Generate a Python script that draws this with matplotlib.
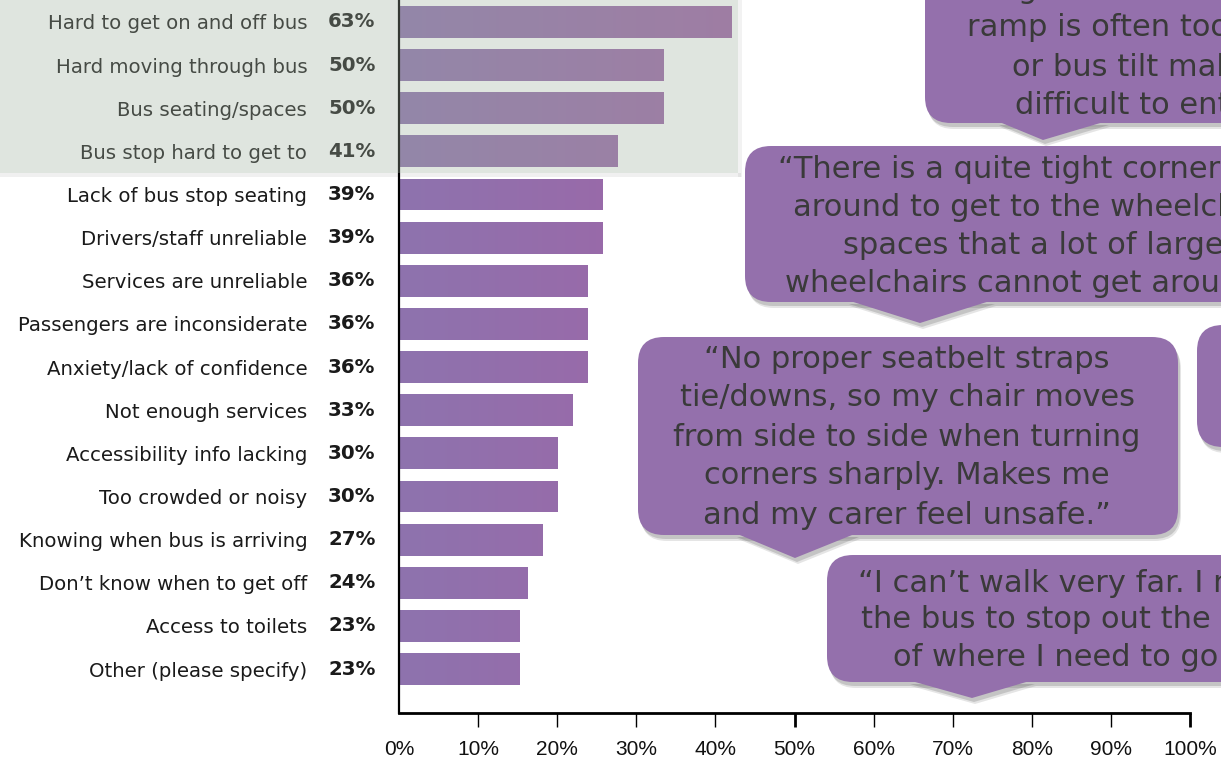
import matplotlib
matplotlib.use("Agg")
import matplotlib.pyplot as plt
import numpy as np
from matplotlib.colors import LinearSegmentedColormap
from matplotlib.patches import FancyBboxPatch, Polygon, Rectangle
from matplotlib.transforms import ScaledTranslation, blended_transform_factory

plt.rcParams['font.family'] = ['DejaVu Sans']

# データ
categories = [
    "Hard to get on and off bus", "Hard moving through bus", "Bus seating/spaces",
    "Bus stop hard to get to", "Lack of bus stop seating", "Drivers/staff unreliable",
    "Services are unreliable", "Passengers are inconsiderate", "Anxiety/lack of confidence",
    "Not enough services", "Accessibility info lacking", "Too crowded or noisy",
    "Knowing when bus is arriving", "Don\u2019t know when to get off", "Access to toilets",
    "Other (please specify)",
]
pct_labels = ["63%", "50%", "50%", "41%", "39%", "39%", "36%", "36%", "36%",
              "33%", "30%", "30%", "27%", "24%", "23%", "23%"]
# bar lengths as read against the drawn axis
bar_len = [42.0, 33.4, 33.4, 27.6, 25.7, 25.7, 23.8, 23.8, 23.8,
           21.9, 20.0, 20.0, 18.1, 16.2, 15.2, 15.2]
x_ticks = [0, 10, 20, 30, 40, 50, 60, 70, 80, 90, 100]
x_tick_labels = [f"{t}%" for t in x_ticks]

quotes = [
    ["\u201cGetting on and off the bus, the", "ramp is often too steep",
     "or bus tilt makes it", "difficult to enter.\u201d"],
    ["\u201cThere is a quite tight corner to turn", "around to get to the wheelchair",
     "spaces that a lot of larger", "wheelchairs cannot get around.\u201d"],
    ["\u201cNo proper seatbelt straps", "tie/downs, so my chair moves",
     "from side to side when turning", "corners sharply. Makes me",
     "and my carer feel unsafe.\u201d"],
    ["\u201cI can\u2019t walk very far. I need", "the bus to stop out the front",
     "of where I need to go.\u201d"],
]

W, H = 1221, 759
fig = plt.figure(figsize=(W / 100, H / 100), dpi=100)
ax = fig.add_axes([399 / W, 1 - 713 / H, (1190 - 399) / W, 713 / H])

rows = np.arange(len(categories))
bars = ax.barh(rows, bar_len, height=0.74, color='none', edgecolor='none')

cmap = LinearSegmentedColormap.from_list('barcol', ['#8e73ae', '#a064a6'])
for b, v in zip(bars, bar_len):
    grad = np.linspace(0, v / 45, 64).reshape(1, -1)
    im = ax.imshow(grad, cmap=cmap, vmin=0, vmax=1, aspect='auto', zorder=2,
                   extent=[0, v, b.get_y() + b.get_height(), b.get_y()],
                   interpolation='bilinear')
    im.set_clip_path(b)

ax.set_xlim(0, 100)
ax.set_ylim(16.02, -0.51)
ax.set_aspect('auto')
ax.set_facecolor('none')

for s in ['top', 'right']:
    ax.spines[s].set_visible(False)
ax.spines['left'].set_linewidth(1.6)
ax.spines['bottom'].set_linewidth(2.0)

ax.set_yticks(rows)
ax.set_yticklabels(categories, fontsize=14.2, color='#1a1a1a')
ax.tick_params(axis='y', length=0, pad=66)

ax.set_xticks(x_ticks)
ax.set_xticklabels(x_tick_labels, fontsize=15, family='Liberation Sans', color='#111111')
ax.tick_params(axis='x', direction='out', length=10, pad=9.5)
for val, t in zip(x_ticks, ax.xaxis.get_major_ticks()):
    major = val % 50 == 0
    t.tick1line.set_markeredgewidth(2.0 if major else 1.0)
    t.tick1line.set_color('black' if major else '#777777')
    if val == 0:
        t.tick1line.set_visible(False)

# パーセント表示
trans = blended_transform_factory(ax.transData, ax.transData) + \
    ScaledTranslation(-71 / 100, 0, fig.dpi_scale_trans)
for r, p in zip(rows, pct_labels):
    ax.text(0, r, p, transform=trans, ha='left', va='center', fontsize=14.2,
            fontweight='bold', color='#1a1a1a', clip_on=False)

# overlay in pixel coordinates
ov = fig.add_axes([0, 0, 1, 1])
ov.set_xlim(0, W)
ov.set_ylim(H, 0)
ov.axis('off')
ov.patch.set_alpha(0)

# highlight box
ov.add_patch(Rectangle((0, 173), 741, 4, fc='black', alpha=0.06, ec='none'))
ov.add_patch(Rectangle((738, -5), 4, 182, fc='black', alpha=0.05, ec='none'))
ov.add_patch(Rectangle((0, -5), 738, 178, fc=(160 / 255, 176 / 255, 158 / 255),
                       alpha=0.33, ec='none'))

BUB = '#9470ac'


def bubble(x0, y0, x1, y1, tail=None):
    for off, a in [((3, 6), 0.10), ((2, 4), 0.14)]:
        ov.add_patch(FancyBboxPatch((x0 + off[0], y0 + off[1]), x1 - x0, y1 - y0,
                                    boxstyle="round,pad=0,rounding_size=26",
                                    fc='black', alpha=a, ec='none'))
        if tail:
            (bl, br, tx, ty) = tail
            ov.add_patch(Polygon([(bl + off[0], y1 - 2 + off[1]), (br + off[0], y1 - 2 + off[1]),
                                  (tx + off[0], ty + off[1])], fc='black', alpha=a, ec='none'))
    ov.add_patch(FancyBboxPatch((x0, y0), x1 - x0, y1 - y0,
                                boxstyle="round,pad=0,rounding_size=26", fc=BUB, ec='none'))
    if tail:
        (bl, br, tx, ty) = tail
        ov.add_patch(Polygon([(bl, y1 - 2), (br, y1 - 2), (tx, ty)], fc=BUB, ec='none'))


def lines(texts, xs, ys, ha):
    for t, x, y in zip(texts, xs, ys):
        ov.text(x, y, t, ha=ha, va='center', fontsize=22, color='#3a3a3a')


bubble(925, -60, 1390, 123, (997, 1107, 1043, 140))
lines(quotes[0], [1152, 967, 1012, 1015], [-10, 28, 67, 105], 'left')
ov.texts[-4].set_ha('center')

bubble(745, 146, 1340, 302, (847, 993, 920, 323))
lines(quotes[1], [778, 793, 843, 785], [170, 207, 246, 283], 'left')

bubble(1197, 325, 1320, 447)

bubble(638, 337, 1178, 535, (735, 857, 795, 558))
lines(quotes[2], [907] * 5, [360, 398, 437, 476, 515], 'center')

bubble(827, 555, 1320, 682, (908, 1033, 972, 698))
lines(quotes[3], [858, 861, 893], [583, 620, 658], 'left')

fig.savefig('out.png', dpi=100)
